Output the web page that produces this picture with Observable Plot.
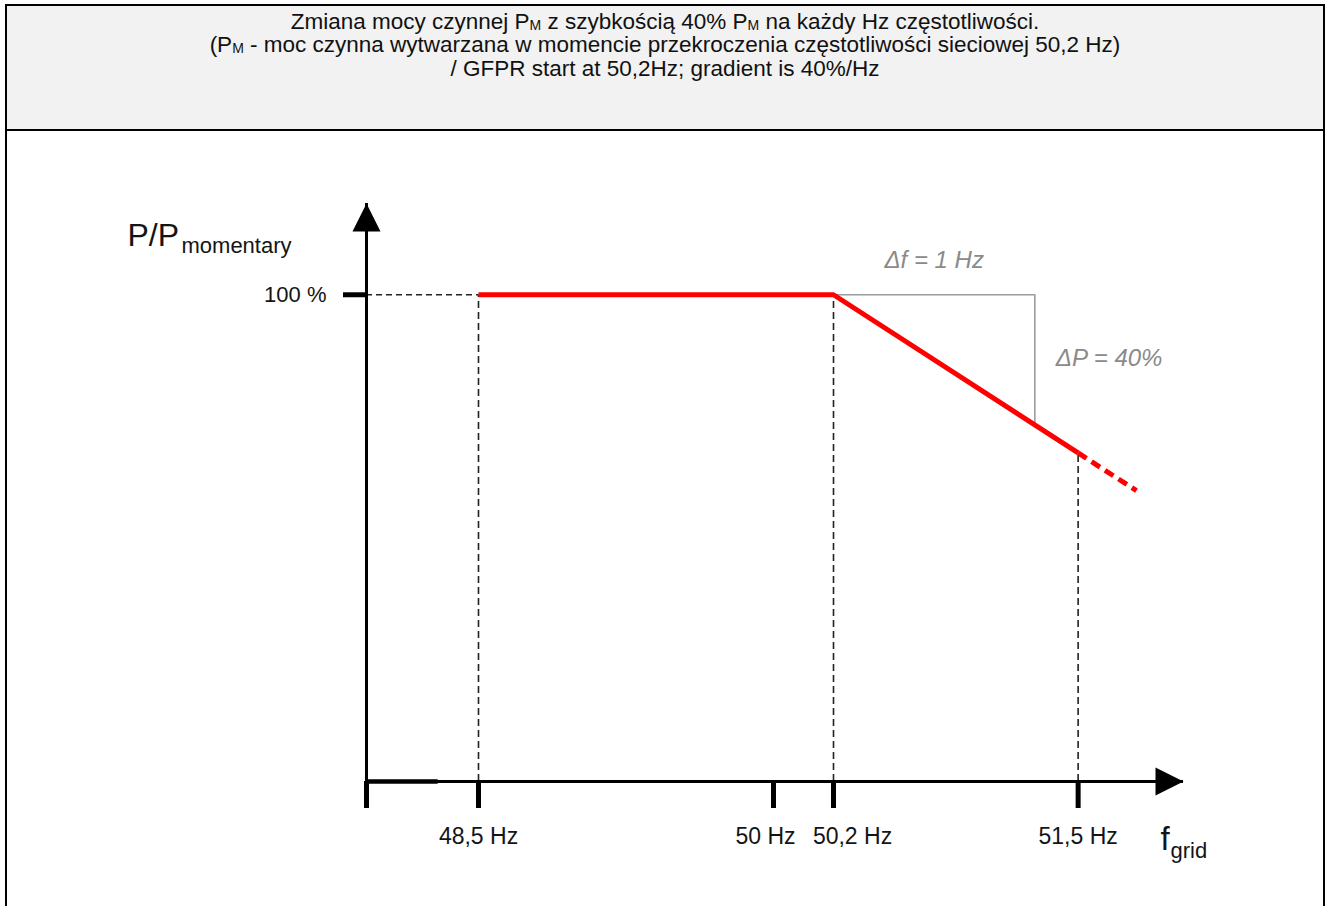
<!DOCTYPE html>
<html>
<head>
<meta charset="utf-8">
<script src="https://cdn.jsdelivr.net/npm/d3@7"></script>
<script src="https://cdn.jsdelivr.net/npm/@observablehq/plot@0.6"></script>
<style>
  html, body { margin: 0; padding: 0; background: #fff; overflow: hidden; }
  #frame { position: absolute; left: 5px; top: 4px; width: 1316px; height: 1000px;
           border: 2px solid #000; font-family: "Liberation Sans", Arial, sans-serif; background: #fff; }
  #head { position: relative; height: 123px; background: #f2f2f2; border-bottom: 2px solid #000;
          text-align: center; font-size: 22.5px; color: #111; }
  #head .ln { position: absolute; left: 0; right: 0; height: 23.5px; line-height: 23.5px; white-space: nowrap; }
  #head .s { font-size: 14px; position: relative; top: 1px; }
  #chart { position: relative; width: 1316px; height: 775px; }
  #chart svg { display: block; }
</style>
</head>
<body>
<div id="frame">
  <div id="head">
    <div class="ln" style="top:3.75px">Zmiana mocy czynnej P<span class="s">M</span> z szybkością 40% P<span class="s">M</span> na każdy Hz częstotliwości.</div>
    <div class="ln" style="top:27.25px">(P<span class="s">M</span> - moc czynna wytwarzana w momencie przekroczenia częstotliwości sieciowej 50,2 Hz)</div>
    <div class="ln" style="top:50.75px">/ GFPR start at 50,2Hz; gradient is 40%/Hz</div>
  </div>
  <div id="chart"></div>
</div>
<script>
// ---- data read from the schematic ----
const tickFreqs   = [48.5, 50, 50.2, 51.5];
const tickLabels  = ["48,5 Hz", "50 Hz", "50,2 Hz", "51,5 Hz"];
const originFreq  = 48;       // axis origin (unlabelled tick)
const axisStubEnd = 48.32;    // thicker start of the x axis
const axisEndFreq = 52.06;    // x arrow tip
const yLevels     = [100];
const yLabels     = ["100 %"];
const axisBottom  = -60;      // y value where the f axis sits
const axisTop     = 130;      // y arrow tip

const curveFreq   = [48.5, 50.2, 51.5];
const curvePower  = [100, 100, 48];
const extFreq     = [51.5, 51.81];
const extPower    = [48, 35.6];
const deltaFreq   = [50.2, 51.27, 51.27];
const deltaPower  = [100, 100, 57.2];
const deltaFLabel = "\u0394f = 1 Hz";
const deltaPLabel = "\u0394P = 40%";

// ---- tables ----
const curve = curveFreq.map((f, i) => ({f, p: curvePower[i]}));
const ext = extFreq.map((f, i) => ({f, p: extPower[i]}));
const delta = deltaFreq.map((f, i) => ({f, p: deltaPower[i]}));
const ticks = tickFreqs.map((f, i) => ({f, label: tickLabels[i]}));
const labelByLevel = new Map(yLevels.map((v, i) => [v, yLabels[i]]));

const arrowHead = {
  draw(ctx) { ctx.moveTo(0, 0); ctx.lineTo(-14, 28); ctx.lineTo(14, 28); ctx.closePath(); }
};

const ink = "#141414";
const font = "'Liberation Sans', Arial, sans-serif";
const tickText = {x: "f", text: "label", frameAnchor: "bottom", dy: 62, fontSize: 23, fill: ink};

const chart = Plot.plot({
  width: 1316,
  height: 775,
  marginLeft: 359,
  marginRight: 140,
  marginTop: 72,
  marginBottom: 125,
  style: {fontFamily: font, color: ink, background: "transparent", overflow: "visible"},
  x: {type: "linear", domain: [originFreq, 48.5, 50, 50.2, axisEndFreq], range: [359, 471, 766, 826, 1176]},
  y: {type: "linear", domain: [axisBottom, axisTop]},
  marks: [
    // dashed guides
    Plot.ruleY(yLevels, {x1: originFreq, x2: curveFreq[0], stroke: "#222", strokeWidth: 1.6, strokeDasharray: "6,4"}),
    Plot.ruleX(curve, {x: "f", y1: axisBottom, y2: "p", stroke: "#222", strokeWidth: 1.6, strokeDasharray: "7,4"}),
    // gradient triangle
    Plot.line(delta, {x: "f", y: "p", stroke: "#9c9c9c", strokeWidth: 1.6}),
    // characteristic
    Plot.line(curve, {x: "f", y: "p", stroke: "#ff0000", strokeWidth: 5, strokeLinecap: "butt", strokeLinejoin: "miter"}),
    Plot.line(ext, {x: "f", y: "p", stroke: "#ff0000", strokeWidth: 5, strokeLinecap: "butt", strokeDasharray: "10,6"}),
    // axes lines
    Plot.ruleX([originFreq], {y1: axisBottom, y2: axisTop, stroke: "#000", strokeWidth: 3}),
    Plot.ruleY([axisBottom], {x1: originFreq, x2: axisEndFreq, stroke: "#000", strokeWidth: 3}),
    Plot.ruleY([axisBottom], {x1: originFreq, x2: axisStubEnd, stroke: "#000", strokeWidth: 4.5}),
    Plot.dot([{f: originFreq, p: axisTop}], {x: "f", y: "p", symbol: arrowHead, fill: "#000", stroke: null}),
    Plot.dot([{f: axisEndFreq, p: axisBottom}], {x: "f", y: "p", symbol: arrowHead, rotate: 90, fill: "#000", stroke: null}),
    // axes ticks
    Plot.axisX([originFreq, ...tickFreqs], {
      tickSize: 27, strokeWidth: 5, stroke: "#000", tickFormat: () => "", label: null
    }),
    Plot.axisY(yLevels, {
      anchor: "left", tickSize: 23, tickPadding: 17, strokeWidth: 5, fontSize: 22, color: ink, stroke: "#000",
      tickFormat: d => labelByLevel.get(d), label: null
    }),
    // x tick labels (the two close ones are nudged apart, as in the original)
    Plot.text(ticks.filter(d => d.f !== 50 && d.f !== 50.2), tickText),
    Plot.text(ticks.filter(d => d.f === 50), {...tickText, dx: -8}),
    Plot.text(ticks.filter(d => d.f === 50.2), {...tickText, dx: 19}),
    // axis titles
    Plot.text([{f: originFreq, p: axisTop}], {x: "f", y: "p", text: () => "P/P", textAnchor: "start", dx: -239, dy: 32, fontSize: 32, fill: ink}),
    Plot.text([{f: originFreq, p: axisTop}], {x: "f", y: "p", text: () => "momentary", textAnchor: "start", dx: -185, dy: 42, fontSize: 22, fill: ink}),
    Plot.text([{f: axisEndFreq, p: axisBottom}], {x: "f", y: "p", text: () => "f", textAnchor: "start", dx: -23, dy: 58, fontSize: 33, fill: ink}),
    Plot.text([{f: axisEndFreq, p: axisBottom}], {x: "f", y: "p", text: () => "grid", textAnchor: "start", dx: -13, dy: 69, fontSize: 22, fill: ink}),
    // gradient annotations
    Plot.text([{f: (deltaFreq[0] + deltaFreq[1]) / 2, p: deltaPower[0]}], {x: "f", y: "p", text: () => deltaFLabel, dy: -34, fontSize: 24, fontStyle: "italic", fill: "#8a8a8a"}),
    Plot.text([{f: deltaFreq[2], p: (deltaPower[1] + deltaPower[2]) / 2}], {x: "f", y: "p", text: () => deltaPLabel, textAnchor: "start", dx: 21, dy: -2, fontSize: 24, fontStyle: "italic", fill: "#8a8a8a"})
  ]
});
document.getElementById("chart").appendChild(chart);
</script>
</body>
</html>
